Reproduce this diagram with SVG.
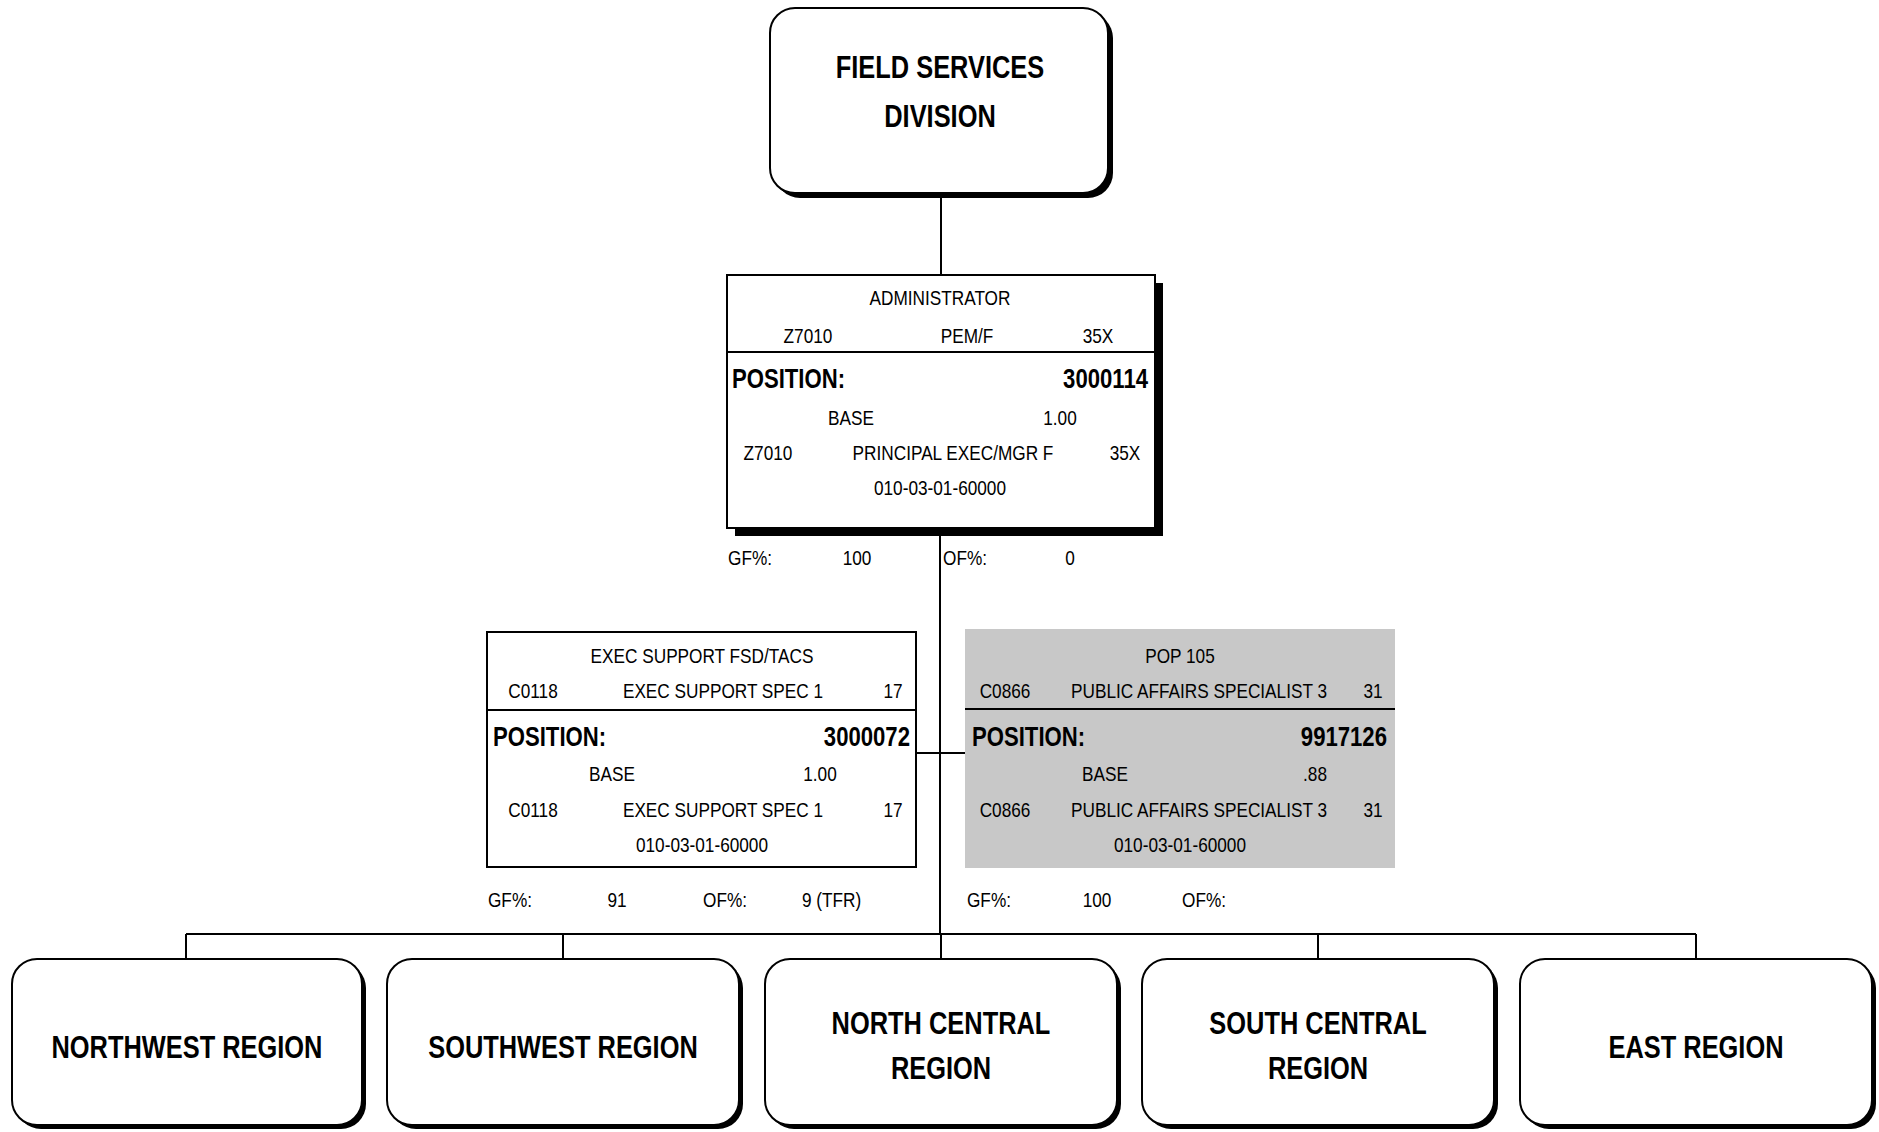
<svg xmlns="http://www.w3.org/2000/svg" width="1879" height="1132" viewBox="0 0 1879 1132">
<style>
  text { font-family: "Liberation Sans", Arial, sans-serif; fill: #000; transform-box: fill-box; }
  .s { font-size: 21px; text-anchor: middle; transform-origin: center; transform: scaleX(0.82); }
  .sl { font-size: 21px; text-anchor: start; transform-origin: left center; transform: scaleX(0.82); }
  .pos { font-size: 27px; font-weight: bold; text-anchor: start; transform-origin: left center; transform: scaleX(0.82); }
  .num { font-size: 27px; font-weight: bold; text-anchor: end; transform-origin: right center; transform: scaleX(0.82); }
  .big { font-size: 31px; font-weight: bold; text-anchor: middle; transform-origin: center; transform: scaleX(0.82); }
  .rbox { fill: #fff; stroke: #000; stroke-width: 2; }
  .shadow { fill: #000; }
  .pbox { fill: #fff; stroke: #000; stroke-width: 2; }
  .div { stroke: #000; stroke-width: 2; }
  .conn line { stroke: #000; stroke-width: 2; }
</style>
<rect width="1879" height="1132" fill="#fff"/>

<g class="conn" id="connectors">
  <line x1="941" y1="193" x2="941" y2="275"/>
  <line x1="940" y1="528" x2="940" y2="934"/>
  <line x1="916" y1="753" x2="965" y2="753"/>
  <line x1="186" y1="934" x2="1696" y2="934"/>
  <line x1="186" y1="934" x2="186" y2="959"/>
  <line x1="563" y1="934" x2="563" y2="959"/>
  <line x1="941" y1="934" x2="941" y2="959"/>
  <line x1="1318" y1="934" x2="1318" y2="959"/>
  <line x1="1696" y1="934" x2="1696" y2="959"/>
</g>

<g id="field-services-division">
  <rect class="shadow" x="775" y="13" width="338" height="185" rx="25"/>
  <rect class="rbox" x="770" y="8" width="338" height="185" rx="25"/>
  <text class="big" x="940" y="78">FIELD SERVICES</text>
  <text class="big" x="940" y="127">DIVISION</text>
</g>

<g id="administrator">
  <rect class="shadow" x="735" y="283" width="428" height="253"/>
  <rect class="pbox" x="727" y="275" width="428" height="253"/>
  <line class="div" x1="727" y1="352" x2="1155" y2="352"/>
  <text class="s" x="940" y="305">ADMINISTRATOR</text>
  <text class="s" x="808" y="343">Z7010</text>
  <text class="s" x="967" y="343">PEM/F</text>
  <text class="s" x="1098" y="343">35X</text>
  <text class="pos" x="732" y="388">POSITION:</text>
  <text class="num" x="1148" y="388">3000114</text>
  <text class="s" x="851" y="425">BASE</text>
  <text class="s" x="1060" y="425">1.00</text>
  <text class="s" x="768" y="460">Z7010</text>
  <text class="s" x="953" y="460">PRINCIPAL EXEC/MGR F</text>
  <text class="s" x="1125" y="460">35X</text>
  <text class="s" x="940" y="495">010-03-01-60000</text>
  <text class="sl" x="728" y="565">GF%:</text>
  <text class="s" x="857" y="565">100</text>
  <text class="sl" x="943" y="565">OF%:</text>
  <text class="s" x="1070" y="565">0</text>
</g>

<g id="exec-support">
  <rect class="pbox" x="487" y="632" width="429" height="235"/>
  <line class="div" x1="487" y1="710" x2="916" y2="710"/>
  <text class="s" x="702" y="663">EXEC SUPPORT FSD/TACS</text>
  <text class="s" x="533" y="698">C0118</text>
  <text class="s" x="723" y="698">EXEC SUPPORT SPEC 1</text>
  <text class="s" x="893" y="698">17</text>
  <text class="pos" x="493" y="746">POSITION:</text>
  <text class="num" x="910" y="746">3000072</text>
  <text class="s" x="612" y="781">BASE</text>
  <text class="s" x="820" y="781">1.00</text>
  <text class="s" x="533" y="817">C0118</text>
  <text class="s" x="723" y="817">EXEC SUPPORT SPEC 1</text>
  <text class="s" x="893" y="817">17</text>
  <text class="s" x="702" y="852">010-03-01-60000</text>
  <text class="sl" x="488" y="907">GF%:</text>
  <text class="s" x="617" y="907">91</text>
  <text class="sl" x="703" y="907">OF%:</text>
  <text class="sl" x="802" y="907">9 (TFR)</text>
</g>

<g id="pop-105">
  <rect x="965" y="629" width="430" height="239" fill="#c8c8c8"/>
  <line class="div" x1="965" y1="709" x2="1395" y2="709"/>
  <text class="s" x="1180" y="663">POP 105</text>
  <text class="s" x="1005" y="698">C0866</text>
  <text class="s" x="1199" y="698">PUBLIC AFFAIRS SPECIALIST 3</text>
  <text class="s" x="1373" y="698">31</text>
  <text class="pos" x="972" y="746">POSITION:</text>
  <text class="num" x="1387" y="746">9917126</text>
  <text class="s" x="1105" y="781">BASE</text>
  <text class="s" x="1315" y="781">.88</text>
  <text class="s" x="1005" y="817">C0866</text>
  <text class="s" x="1199" y="817">PUBLIC AFFAIRS SPECIALIST 3</text>
  <text class="s" x="1373" y="817">31</text>
  <text class="s" x="1180" y="852">010-03-01-60000</text>
  <text class="sl" x="967" y="907">GF%:</text>
  <text class="s" x="1097" y="907">100</text>
  <text class="sl" x="1182" y="907">OF%:</text>
</g>

<g id="northwest-region">
  <rect class="shadow" x="16" y="963" width="350" height="166" rx="25"/>
  <rect class="rbox" x="12" y="959" width="350" height="166" rx="25"/>
  <text class="big" x="187" y="1058">NORTHWEST REGION</text>
</g>
<g id="southwest-region">
  <rect class="shadow" x="391" y="963" width="352" height="166" rx="25"/>
  <rect class="rbox" x="387" y="959" width="352" height="166" rx="25"/>
  <text class="big" x="563" y="1058">SOUTHWEST REGION</text>
</g>
<g id="north-central-region">
  <rect class="shadow" x="769" y="963" width="352" height="166" rx="25"/>
  <rect class="rbox" x="765" y="959" width="352" height="166" rx="25"/>
  <text class="big" x="941" y="1034">NORTH CENTRAL</text>
  <text class="big" x="941" y="1079">REGION</text>
</g>
<g id="south-central-region">
  <rect class="shadow" x="1146" y="963" width="352" height="166" rx="25"/>
  <rect class="rbox" x="1142" y="959" width="352" height="166" rx="25"/>
  <text class="big" x="1318" y="1034">SOUTH CENTRAL</text>
  <text class="big" x="1318" y="1079">REGION</text>
</g>
<g id="east-region">
  <rect class="shadow" x="1524" y="963" width="352" height="166" rx="25"/>
  <rect class="rbox" x="1520" y="959" width="352" height="166" rx="25"/>
  <text class="big" x="1696" y="1058">EAST REGION</text>
</g>
</svg>
